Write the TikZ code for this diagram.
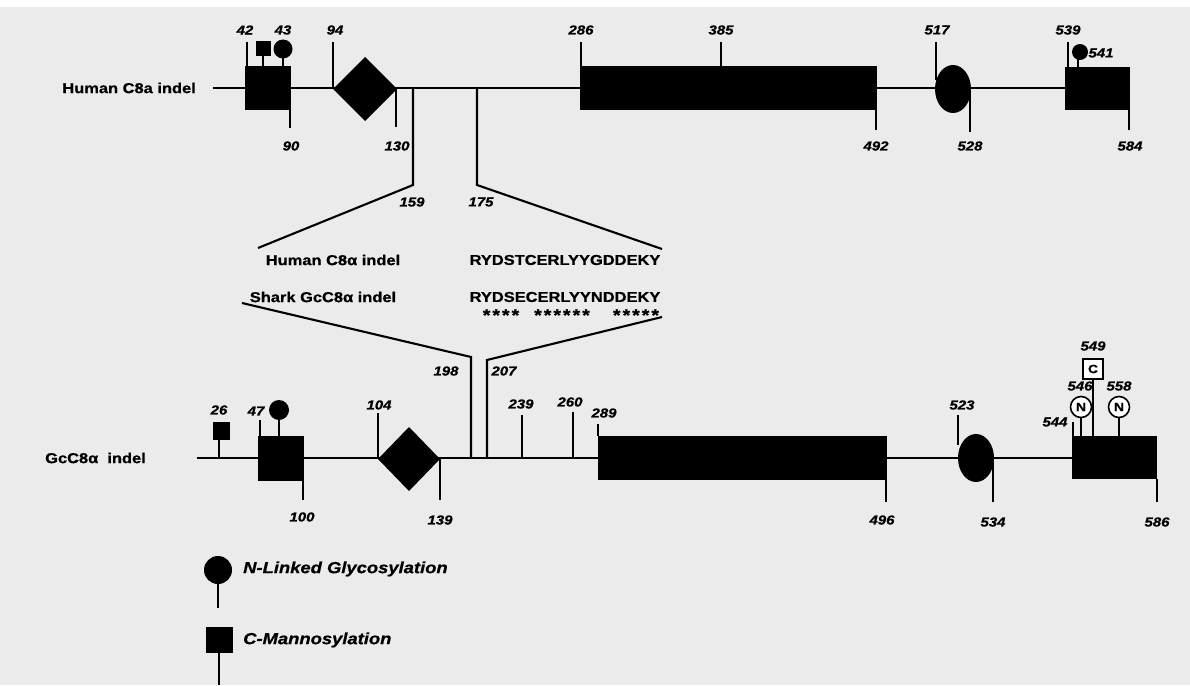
\documentclass[tikz,border=0pt]{standalone}
\usepackage{fontspec}
\newfontfamily\arialw[FakeStretch=1.15,BoldFeatures={FakeBold=0.8},BoldItalicFeatures={FakeBold=0.8}]{Liberation Sans}
\newcommand\numfont{\arialw\bfseries\itshape\fontsize{13}{13}\selectfont}
\newcommand\lblfont{\arialw\bfseries\fontsize{14.3}{14.3}\selectfont}
\newcommand\legfont{\arialw\bfseries\itshape\fontsize{16}{16}\selectfont}
\definecolor{bgcol}{HTML}{EBEBEB}
\begin{document}
\begin{tikzpicture}[x=1pt,y=-1pt,
  bb/.style={line width=2.6pt},
  tk/.style={line width=2.1pt},
  blk/.style={fill=black},
  num/.style={font=\numfont, inner sep=0pt},
  lbl/.style={font=\lblfont, inner sep=0pt},
  leg/.style={font=\legfont, inner sep=0pt, anchor=west},
  nmark/.style={circle, draw=black, line width=1.6pt, fill=white, minimum size=21pt, inner sep=0pt, font=\arialw\bfseries\fontsize{12}{12}\selectfont},
  cmark/.style={rectangle, draw=black, line width=1.6pt, fill=white, minimum size=20pt, inner sep=0pt, font=\arialw\bfseries\fontsize{12}{12}\selectfont},
  stars/.style={font=\arialw\bfseries\fontsize{17}{17}\selectfont, inner sep=0pt, anchor=base}
]
\fill[white] (0,0) rectangle (1190,685);
\fill[bgcol] (0,7) rectangle (1190,685);
\useasboundingbox (0,0) rectangle (1190,685);

% ---------------- top row ----------------
\node[lbl, anchor=east] (hlab) at (196,88) {Human C8a indel};
\coordinate (ta) at (213,88);
\coordinate (tb) at (1130,88);
\draw[bb] (ta) -- (tb);
% box 1
\fill[blk] (245,66) rectangle (291,110);
\coordinate (t42a) at (247,42); \coordinate (t42b) at (247,66);
\draw[tk] (t42a) -- (t42b);
\node[num] (n42) at (245,30) {42};
\fill[blk] (256,41) rectangle (271,56);
\coordinate (s43a) at (263,56); \coordinate (s43b) at (263,66);
\draw[tk] (s43a) -- (s43b);
\fill[blk] (283,49) circle (9.5);
\coordinate (c43a) at (283,58); \coordinate (c43b) at (283,66);
\draw[tk] (c43a) -- (c43b);
\node[num] (n43) at (283,30) {43};
\coordinate (t90a) at (290,110); \coordinate (t90b) at (290,128);
\draw[tk] (t90a) -- (t90b);
\node[num] (n90) at (291,146) {90};
% diamond
\coordinate (t94a) at (333,42); \coordinate (t94b) at (333,88);
\draw[tk] (t94a) -- (t94b);
\node[num] (n94) at (335,30) {94};
\fill[blk] (333,89) -- (365,57) -- (397,89) -- (365,121) -- cycle;
\coordinate (t130a) at (396,88); \coordinate (t130b) at (396,127);
\draw[tk] (t130a) -- (t130b);
\node[num] (n130) at (397,146) {130};
% indel lines
\coordinate (i159a) at (413,88); \coordinate (i159b) at (413,185); \coordinate (i159c) at (258,248);
\draw[tk] (i159a) -- (i159b) -- (i159c);
\node[num] (n159) at (412,202) {159};
\coordinate (i175a) at (477,88); \coordinate (i175b) at (477,185); \coordinate (i175c) at (662,249);
\draw[tk] (i175a) -- (i175b) -- (i175c);
\node[num] (n175) at (481,202) {175};
% big box
\fill[blk] (580,66) rectangle (877,110);
\coordinate (t286a) at (581,42); \coordinate (t286b) at (581,66);
\draw[tk] (t286a) -- (t286b);
\node[num] (n286) at (581,30) {286};
\coordinate (t385a) at (721,42); \coordinate (t385b) at (721,66);
\draw[tk] (t385a) -- (t385b);
\node[num] (n385) at (721,30) {385};
\coordinate (t492a) at (876,110); \coordinate (t492b) at (876,130);
\draw[tk] (t492a) -- (t492b);
\node[num] (n492) at (876,146) {492};
% ellipse
\coordinate (t517a) at (936,42); \coordinate (t517b) at (936,80);
\draw[tk] (t517a) -- (t517b);
\node[num] (n517) at (937,30) {517};
\fill[blk] (953,89) ellipse [x radius=18, y radius=24];
\coordinate (t528a) at (970,89); \coordinate (t528b) at (970,132);
\draw[tk] (t528a) -- (t528b);
\node[num] (n528) at (970,146) {528};
% right box
\fill[blk] (1065,67) rectangle (1130,110);
\coordinate (t539a) at (1068,42); \coordinate (t539b) at (1068,67);
\draw[tk] (t539a) -- (t539b);
\node[num] (n539) at (1068,30) {539};
\fill[blk] (1080,52) circle (8);
\coordinate (c541a) at (1078,58); \coordinate (c541b) at (1078,67);
\draw[tk] (c541a) -- (c541b);
\node[num] (n541) at (1101,53) {541};
\coordinate (t584a) at (1129,110); \coordinate (t584b) at (1129,130);
\draw[tk] (t584a) -- (t584b);
\node[num] (n584) at (1130,146) {584};

% ---------------- middle ----------------
\node[lbl] (mh) at (333,260) {Human C8α indel};
\node[lbl] (mhs) at (565,260) {RYDSTCERLYYGDDEKY};
\node[lbl] (ms) at (323,297) {Shark GcC8α indel};
\node[lbl] (mss) at (565,297) {RYDSECERLYYNDDEKY};
\node[stars] (st1) at (501,321) {*\kern2pt*\kern2pt*\kern2pt*};
\node[stars] (st2) at (562,321) {*\kern2pt*\kern2pt*\kern2pt*\kern2pt*\kern2pt*};
\node[stars] (st3) at (636,321) {*\kern2pt*\kern2pt*\kern2pt*\kern2pt*};
\coordinate (i198a) at (242,303); \coordinate (i198b) at (471,357); \coordinate (i198c) at (471,458);
\draw[tk] (i198a) -- (i198b) -- (i198c);
\node[num] (n198) at (446,371) {198};
\coordinate (i207a) at (662,317); \coordinate (i207b) at (487,360); \coordinate (i207c) at (487,458);
\draw[tk] (i207a) -- (i207b) -- (i207c);
\node[num] (n207) at (504,371) {207};

% ---------------- bottom row ----------------
\node[lbl, anchor=west] (glab) at (45,458) {GcC8α\ \ indel};
\coordinate (ba) at (197,458);
\coordinate (bbb) at (1157,458);
\draw[bb] (ba) -- (bbb);
\fill[blk] (213,422) rectangle (230,440);
\coordinate (s26a) at (219,440); \coordinate (s26b) at (219,458);
\draw[tk] (s26a) -- (s26b);
\node[num] (n26) at (219,410) {26};
\fill[blk] (258,436) rectangle (304,481);
\coordinate (t47a) at (260,420); \coordinate (t47b) at (260,436);
\draw[tk] (t47a) -- (t47b);
\node[num] (n47) at (256,411) {47};
\fill[blk] (279,410) circle (10);
\coordinate (c47a) at (279,420); \coordinate (c47b) at (279,436);
\draw[tk] (c47a) -- (c47b);
\coordinate (t100a) at (303,481); \coordinate (t100b) at (303,500);
\draw[tk] (t100a) -- (t100b);
\node[num] (n100) at (302,517) {100};
\coordinate (t104a) at (378,413); \coordinate (t104b) at (378,458);
\draw[tk] (t104a) -- (t104b);
\node[num] (n104) at (379,405) {104};
\fill[blk] (378,459) -- (409,427) -- (440,459) -- (409,491) -- cycle;
\coordinate (t139a) at (440,458); \coordinate (t139b) at (440,500);
\draw[tk] (t139a) -- (t139b);
\node[num] (n139) at (440,520) {139};
\coordinate (t239a) at (522,415); \coordinate (t239b) at (522,458);
\draw[tk] (t239a) -- (t239b);
\node[num] (n239) at (521,404) {239};
\coordinate (t260a) at (573,412); \coordinate (t260b) at (573,458);
\draw[tk] (t260a) -- (t260b);
\node[num] (n260) at (570,402) {260};
\coordinate (t289a) at (598,424); \coordinate (t289b) at (598,436);
\draw[tk] (t289a) -- (t289b);
\node[num] (n289) at (604,413) {289};
\fill[blk] (598,436) rectangle (887,480);
\coordinate (t496a) at (886,480); \coordinate (t496b) at (886,502);
\draw[tk] (t496a) -- (t496b);
\node[num] (n496) at (882,520) {496};
\coordinate (t523a) at (958,415); \coordinate (t523b) at (958,445);
\draw[tk] (t523a) -- (t523b);
\node[num] (n523) at (962,405) {523};
\fill[blk] (976,458) ellipse [x radius=18, y radius=24];
\coordinate (t534a) at (993,458); \coordinate (t534b) at (993,502);
\draw[tk] (t534a) -- (t534b);
\node[num] (n534) at (993,522) {534};
\fill[blk] (1072,436) rectangle (1157,479);
\coordinate (t544a) at (1073,422); \coordinate (t544b) at (1073,436);
\draw[tk] (t544a) -- (t544b);
\node[num] (n544) at (1055,422) {544};
\node[cmark] (c549) at (1093,369) {C};
\coordinate (c549b) at (1094,436);
\draw[tk] (c549) -- (c549|-c549b);
\node[num] (n549) at (1093,346) {549};
\node[nmark] (n546m) at (1081,407) {N};
\coordinate (n546b) at (1081,436);
\draw[tk] (n546m) -- (n546b);
\node[num] (n546) at (1080,386) {546};
\node[nmark] (n558m) at (1119,407) {N};
\coordinate (n558b) at (1119,436);
\draw[tk] (n558m) -- (n558b);
\node[num] (n558) at (1119,386) {558};
\coordinate (t586a) at (1157,479); \coordinate (t586b) at (1157,502);
\draw[tk] (t586a) -- (t586b);
\node[num] (n586) at (1157,522) {586};

% ---------------- legend ----------------
\fill[blk] (218,570) circle (14);
\coordinate (lga) at (218,584); \coordinate (lgb) at (218,608);
\draw[tk] (lga) -- (lgb);
\node[leg] (lgt) at (243,569) {N-Linked Glycosylation};
\fill[blk] (206,627) rectangle (233,653);
\coordinate (lma) at (219,653); \coordinate (lmb) at (219,685);
\draw[tk] (lma) -- (lmb);
\node[leg] (lmt) at (243,640) {C-Mannosylation};
\end{tikzpicture}
\end{document}
